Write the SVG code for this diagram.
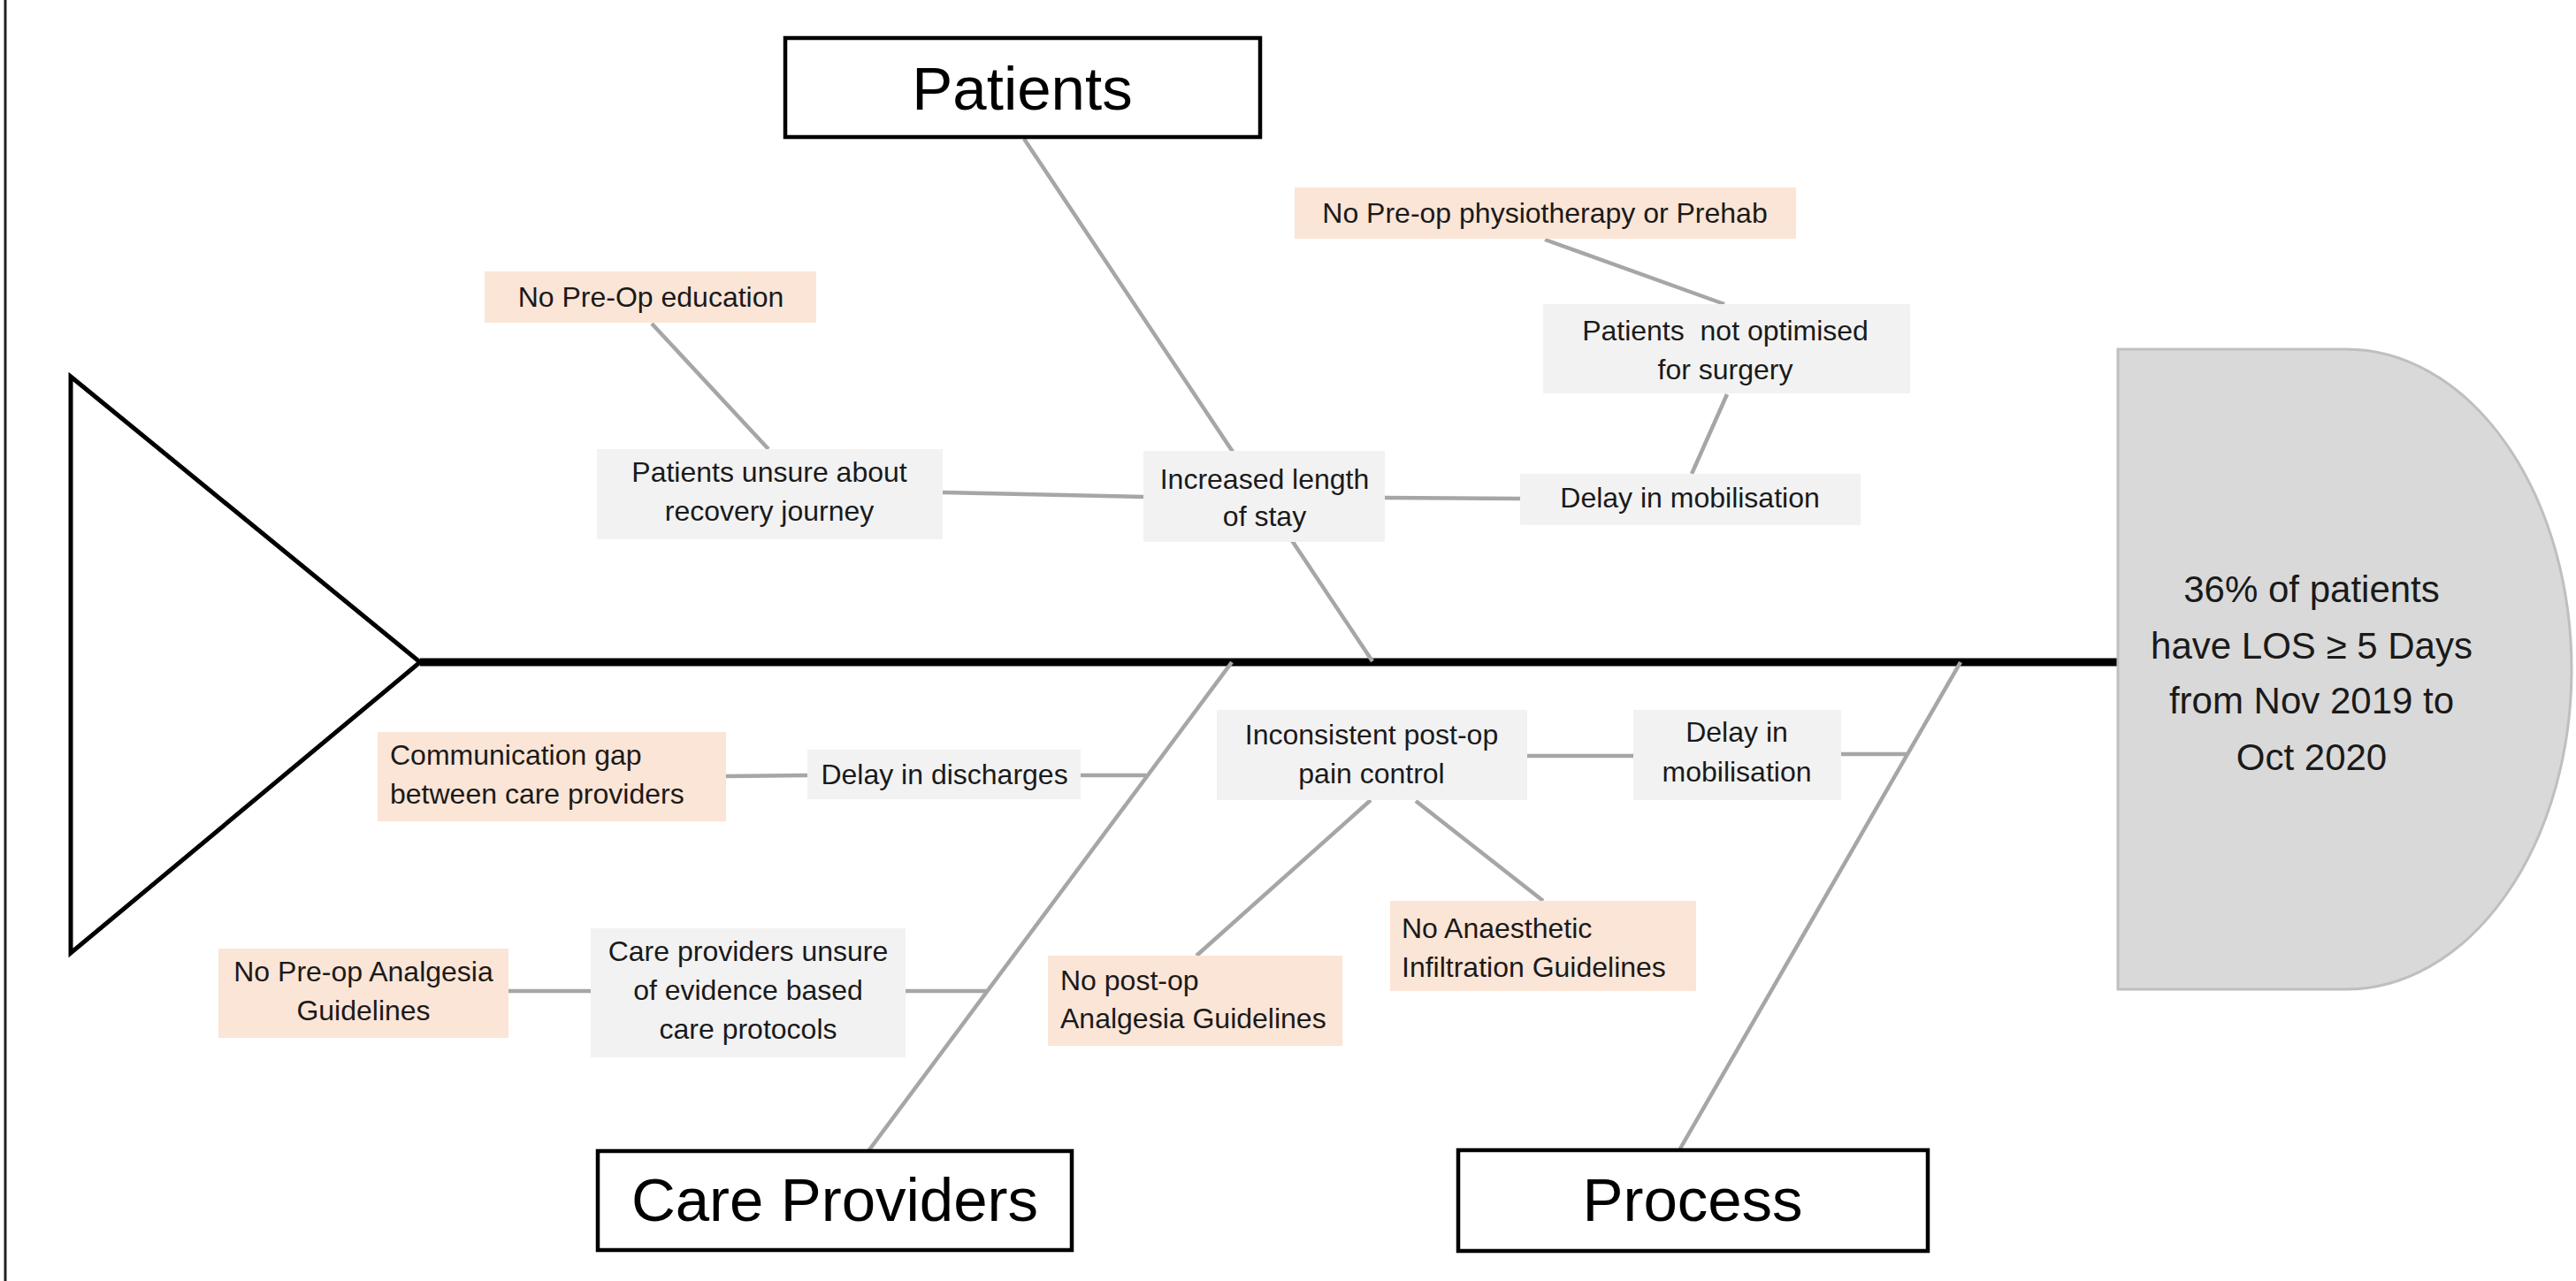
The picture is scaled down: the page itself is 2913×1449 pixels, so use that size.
<svg xmlns="http://www.w3.org/2000/svg" width="2913" height="1449" viewBox="0 0 2913 1449">
<style>
text{font-family:"Liberation Sans",Arial,sans-serif;fill:#1a1a1a}
.s{font-size:32px}
.c{text-anchor:middle}
.big{font-size:69px;fill:#000}
.eff{font-size:42px;text-anchor:middle}
.cat{fill:#fff;stroke:#000;stroke-width:4.5}
.g{fill:#F2F2F2}
.p{fill:#FBE5D6}
.ln{stroke:#A6A6A6;stroke-width:4.5;fill:none;stroke-linecap:butt}
</style>
<rect width="2913" height="1449" fill="#fff"/>
<line x1="6" y1="0" x2="6" y2="1449" stroke="#222" stroke-width="3"/>
<g id="connectors">
<line x1="475" y1="749" x2="2396" y2="749" stroke="#000" stroke-width="9"/>
<line class="ln" x1="1158" y1="157" x2="1552" y2="748"/>
<line class="ln" x1="982" y1="1302" x2="1393" y2="749"/>
<line class="ln" x1="1899" y1="1301" x2="2217" y2="749"/>
<line class="ln" x1="737" y1="366" x2="869" y2="508"/>
<line class="ln" x1="1066" y1="557" x2="1293" y2="562"/>
<line class="ln" x1="1566" y1="563" x2="1719" y2="564"/>
<line class="ln" x1="1747" y1="271" x2="1950" y2="344"/>
<line class="ln" x1="1953" y1="446" x2="1913" y2="536"/>
<line class="ln" x1="821" y1="878" x2="913" y2="877"/>
<line class="ln" x1="1222" y1="877" x2="1296" y2="877"/>
<line class="ln" x1="575" y1="1121" x2="668" y2="1121"/>
<line class="ln" x1="1024" y1="1121" x2="1115" y2="1121"/>
<line class="ln" x1="1727" y1="855" x2="1847" y2="855"/>
<line class="ln" x1="2082" y1="853" x2="2156" y2="853"/>
<line class="ln" x1="1550" y1="905" x2="1353" y2="1081"/>
<line class="ln" x1="1601" y1="906" x2="1745" y2="1019"/>
</g>
<g id="head">
<polygon points="80,426 475,749 80,1078" fill="#fff" stroke="#000" stroke-width="5" stroke-linejoin="miter"/>
</g>
<g id="effect">
<path d="M2395,395 L2653,395 A255,362 0 0 1 2653,1119 L2395,1119 Z" fill="#D9D9D9" stroke="#BFBFBF" stroke-width="3"/>
<text class="eff" x="2614" y="681">36% of patients</text>
<text class="eff" x="2614" y="745">have LOS ≥ 5 Days</text>
<text class="eff" x="2614" y="807">from Nov 2019 to</text>
<text class="eff" x="2614" y="871">Oct 2020</text>
</g>
<g id="cat-patients">
<rect class="cat" x="888" y="43" width="537" height="112"/>
<text class="big c" x="1156" y="124">Patients</text>
</g>
<g id="cat-care-providers">
<rect class="cat" x="676" y="1302" width="536" height="112"/>
<text class="big c" x="944" y="1381">Care Providers</text>
</g>
<g id="cat-process">
<rect class="cat" x="1649" y="1301" width="531" height="114"/>
<text class="big c" x="1914" y="1381">Process</text>
</g>
<g id="no-preop-education">
<rect class="p" x="548" y="307" width="375" height="58"/>
<text class="s c" x="736" y="347">No Pre-Op education</text>
</g>
<g id="patients-unsure">
<rect class="g" x="675" y="508" width="391" height="102"/>
<text class="s c" x="870" y="545">Patients unsure about</text>
<text class="s c" x="870" y="589">recovery journey</text>
</g>
<g id="increased-los">
<rect class="g" x="1293" y="510" width="273" height="103"/>
<text class="s c" x="1430" y="553">Increased length</text>
<text class="s c" x="1430" y="595">of stay</text>
</g>
<g id="delay-mobilisation-top">
<rect class="g" x="1719" y="536" width="385" height="58"/>
<text class="s c" x="1911" y="574">Delay in mobilisation</text>
</g>
<g id="no-preop-physio">
<rect class="p" x="1464" y="212" width="567" height="58"/>
<text class="s c" x="1747" y="252">No Pre-op physiotherapy or Prehab</text>
</g>
<g id="not-optimised">
<rect class="g" x="1745" y="344" width="415" height="101"/>
<text class="s c" x="1951" y="385" xml:space="preserve">Patients  not optimised</text>
<text class="s c" x="1951" y="429">for surgery</text>
</g>
<g id="communication-gap">
<rect class="p" x="427" y="828" width="394" height="101"/>
<text class="s" x="441" y="865">Communication gap</text>
<text class="s" x="441" y="909">between care providers</text>
</g>
<g id="delay-discharges">
<rect class="g" x="913" y="848" width="309" height="56"/>
<text class="s c" x="1068" y="887">Delay in discharges</text>
</g>
<g id="no-preop-analgesia">
<rect class="p" x="247" y="1073" width="328" height="101"/>
<text class="s c" x="411" y="1110">No Pre-op Analgesia</text>
<text class="s c" x="411" y="1154">Guidelines</text>
</g>
<g id="care-providers-unsure">
<rect class="g" x="668" y="1050" width="356" height="146"/>
<text class="s c" x="846" y="1087">Care providers unsure</text>
<text class="s c" x="846" y="1131">of evidence based</text>
<text class="s c" x="846" y="1175">care protocols</text>
</g>
<g id="inconsistent-pain">
<rect class="g" x="1376" y="803" width="351" height="102"/>
<text class="s c" x="1551" y="842">Inconsistent post-op</text>
<text class="s c" x="1551" y="886">pain control</text>
</g>
<g id="delay-mobilisation-bottom">
<rect class="g" x="1847" y="803" width="235" height="102"/>
<text class="s c" x="1964" y="839">Delay in</text>
<text class="s c" x="1964" y="884">mobilisation</text>
</g>
<g id="no-postop-analgesia">
<rect class="p" x="1185" y="1081" width="333" height="102"/>
<text class="s" x="1199" y="1120">No post-op</text>
<text class="s" x="1199" y="1163">Analgesia Guidelines</text>
</g>
<g id="no-anaesthetic-infiltration">
<rect class="p" x="1572" y="1019" width="346" height="102"/>
<text class="s" x="1585" y="1061">No Anaesthetic</text>
<text class="s" x="1585" y="1105">Infiltration Guidelines</text>
</g>
</svg>
